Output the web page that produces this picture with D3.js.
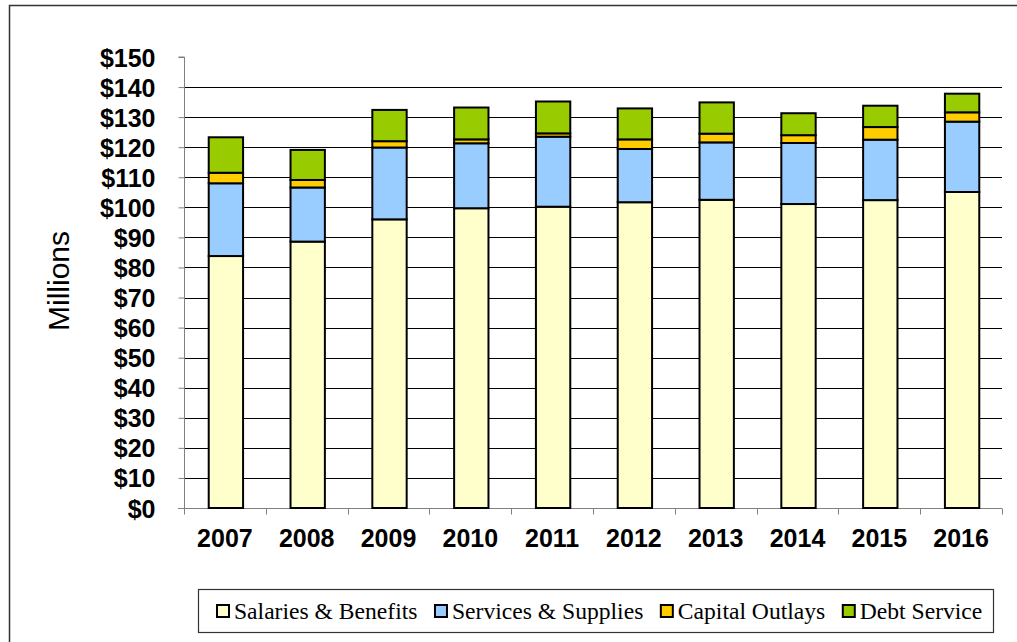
<!DOCTYPE html>
<html>
<head>
<meta charset="utf-8">
<script src="https://cdn.jsdelivr.net/npm/d3@7"></script>
<style>
  html, body { margin: 0; padding: 0; background: #fff; }
  svg { display: block; }
</style>
</head>
<body>
<div id="chart"></div>
<script>
// values (millions of dollars)
const years = ['2007', '2008', '2009', '2010', '2011', '2012', '2013', '2014', '2015', '2016'];
const salaries = [83.8, 88.6, 96.0, 99.7, 100.2, 101.7, 102.5, 101.1, 102.4, 105.1];
const services = [24.2, 18.0, 23.9, 21.6, 23.3, 17.7, 19.1, 20.3, 20.1, 23.4];
const capital  = [3.5, 2.5, 2.1, 1.3, 1.1, 3.2, 2.9, 2.6, 4.2, 3.1];
const debt     = [11.8, 10.0, 10.4, 10.6, 10.6, 10.3, 10.4, 7.3, 7.1, 6.2];
const seriesNames = ['Salaries & Benefits', 'Services & Supplies', 'Capital Outlays', 'Debt Service'];
const yTicks = [0, 10, 20, 30, 40, 50, 60, 70, 80, 90, 100, 110, 120, 130, 140, 150];

const colors = ['#FFFFCC', '#99CCFF', '#FFCC00', '#99CC00'];
const W = 1017, H = 642;
const plot = { left: 184, right: 1002, top: 57, bottom: 508 };

const svg = d3.select('#chart').append('svg')
    .attr('width', W).attr('height', H);

// outer frame (runs off the right and bottom of the picture)
svg.append('rect')
    .attr('x', 9.5).attr('y', 5.5)
    .attr('width', W + 20).attr('height', H + 20)
    .attr('fill', 'none').attr('stroke', '#333').attr('stroke-width', 1.5);

const rows = years.map((y, i) => ({
    year: y, s0: salaries[i], s1: services[i], s2: capital[i], s3: debt[i]
}));
const stack = d3.stack().keys(['s0', 's1', 's2', 's3'])(rows);

const x = d3.scaleBand().domain(years).range([plot.left, plot.right]).paddingInner(0).paddingOuter(0);
const y = d3.scaleLinear().domain([0, 150]).range([plot.bottom, plot.top]);

// gridlines
svg.append('g').selectAll('line')
    .data(yTicks.filter(t => t > 0 && t < 150))
    .enter().append('line')
    .attr('x1', plot.left).attr('x2', plot.right)
    .attr('y1', d => Math.round(y(d)) + 0.5).attr('y2', d => Math.round(y(d)) + 0.5)
    .attr('stroke', '#000').attr('stroke-width', 1);

// y axis
const yAxis = svg.append('g')
    .attr('transform', `translate(${plot.left + 0.5},0)`)
    .call(d3.axisLeft(y).tickValues(yTicks).tickSize(6).tickPadding(23)
        .tickFormat(d => '$' + d));
yAxis.select('.domain').attr('stroke', '#808080').attr('d', `M-6,${plot.top}H0V${plot.bottom}`);
yAxis.selectAll('.tick line').attr('stroke', '#808080');
yAxis.selectAll('.tick text')
    .attr('fill', '#000')
    .style('font-family', '"Liberation Sans", Arial, sans-serif')
    .style('font-weight', 'bold')
    .style('font-size', '25px')
    .attr('dy', '0.36em');

// x axis
const xAxis = svg.append('g')
    .attr('transform', `translate(0,${plot.bottom + 0.5})`)
    .call(d3.axisBottom(x).tickSize(0).tickPadding(21));
xAxis.select('.domain').attr('stroke', '#808080').attr('d', `M${plot.left - 6},0H${plot.right}`);
xAxis.selectAll('.tick text')
    .attr('fill', '#000')
    .style('font-family', '"Liberation Sans", Arial, sans-serif')
    .style('font-weight', 'bold')
    .style('font-size', '25px');
// category boundary ticks
xAxis.append('g').selectAll('line')
    .data(years.slice(1).concat(['end']))
    .enter().append('line')
    .attr('x1', (d, i) => Math.round(plot.left + x.step() * (i + 1)) + 0.5)
    .attr('x2', (d, i) => Math.round(plot.left + x.step() * (i + 1)) + 0.5)
    .attr('y1', 0).attr('y2', 6)
    .attr('stroke', '#808080');
xAxis.append('line')
    .attr('x1', plot.left + 0.5).attr('x2', plot.left + 0.5)
    .attr('y1', 0).attr('y2', 6).attr('stroke', '#808080');

// bars
const barW = x.bandwidth() * 0.42;
svg.append('g').selectAll('g')
    .data(stack).enter().append('g')
    .attr('fill', (d, i) => colors[i])
    .selectAll('rect')
    .data(d => d).enter().append('rect')
    .attr('x', d => x(d.data.year) + (x.bandwidth() - barW) / 2 + 1)
    .attr('width', barW)
    .attr('y', d => y(d[1]))
    .attr('height', d => y(d[0]) - y(d[1]))
    .attr('stroke', '#000').attr('stroke-width', 2);

// y title
svg.append('text')
    .attr('transform', 'translate(69,281) rotate(-90)')
    .attr('text-anchor', 'middle')
    .style('font-family', '"Liberation Sans", Arial, sans-serif')
    .style('font-size', '30px')
    .text('Millions');

// legend
const legend = svg.append('g');
legend.append('rect')
    .attr('x', 198.5).attr('y', 589.5).attr('width', 795).attr('height', 43)
    .attr('fill', '#fff').attr('stroke', '#333').attr('stroke-width', 1.2);
let lx = 217;
seriesNames.forEach((name, i) => {
    legend.append('rect')
        .attr('x', lx).attr('y', 605).attr('width', 12).attr('height', 12)
        .attr('fill', colors[i]).attr('stroke', '#000').attr('stroke-width', 2);
    const t = legend.append('text')
        .attr('x', lx + 17).attr('y', 619)
        .style('font-family', '"Liberation Serif", "Times New Roman", serif')
        .style('font-size', '23.6px')
        .text(name);
    lx += 17 + t.node().getComputedTextLength() + 17.5;
});
</script>
</body>
</html>
